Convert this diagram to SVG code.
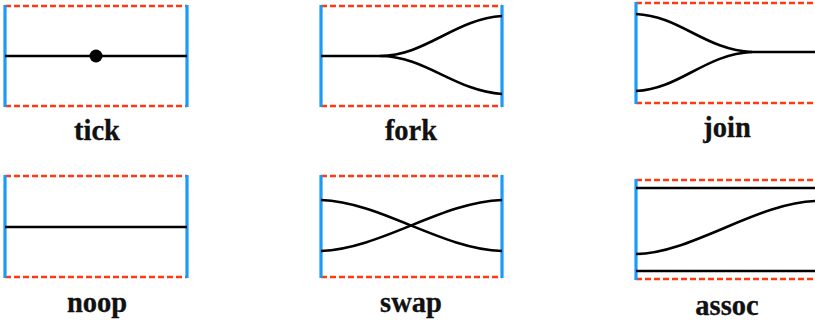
<svg xmlns="http://www.w3.org/2000/svg" width="815" height="326" viewBox="0 0 815 326">
<style>
.bg{fill:#ffffff}
.dash{stroke:#ff3a12;stroke-width:2.6;stroke-dasharray:6 3;fill:none}
.side{stroke:#1a9bf5;stroke-width:3.2;fill:none}
.wire{stroke:#000;stroke-width:2.6;fill:none}
.lbl{font-family:'Liberation Serif','Times New Roman',serif;font-weight:700;font-size:28.5px;text-anchor:middle;fill:#111;stroke:#111;stroke-width:0.3}
</style>
<rect class="bg" x="0" y="0" width="815" height="326"/>
<g id="tick">
<line class="dash" x1="5" y1="6" x2="187" y2="6"/>
<line class="dash" x1="5" y1="106" x2="187" y2="106"/>
<line class="side" x1="5" y1="5" x2="5" y2="107"/>
<line class="side" x1="187" y1="5" x2="187" y2="107"/>
<line class="wire" x1="5" y1="56" x2="187" y2="56"/>
<circle cx="96" cy="56" r="6.5" fill="#000"/>
<text class="lbl" x="97" y="140">tick</text>
</g>
<g id="fork">
<line class="dash" x1="321" y1="6" x2="502" y2="6"/>
<line class="dash" x1="321" y1="106" x2="502" y2="106"/>
<line class="side" x1="321" y1="5" x2="321" y2="107"/>
<line class="side" x1="502" y1="5" x2="502" y2="107"/>
<path class="wire" d="M321,56 L380,56 C425,56 455,19 502,16"/>
<path class="wire" d="M380,56 C425,56 455,91 502,94"/>
<text class="lbl" x="411" y="140">fork</text>
</g>
<g id="join">
<line class="dash" x1="636" y1="3" x2="815" y2="3"/>
<line class="dash" x1="636" y1="103" x2="815" y2="103"/>
<line class="side" x1="636" y1="2" x2="636" y2="104"/>
<line class="side" x1="818" y1="2" x2="818" y2="104"/>
<path class="wire" d="M636,14 C680,16 705,50 752,52 L818,52"/>
<path class="wire" d="M636,91 C680,89 705,54 752,52"/>
<text class="lbl" x="727" y="137">join</text>
</g>
<g id="noop">
<line class="dash" x1="5" y1="176" x2="187" y2="176"/>
<line class="dash" x1="5" y1="277" x2="187" y2="277"/>
<line class="side" x1="5" y1="175" x2="5" y2="278"/>
<line class="side" x1="187" y1="175" x2="187" y2="278"/>
<line class="wire" x1="5" y1="227" x2="187" y2="227"/>
<text class="lbl" x="97" y="312">noop</text>
</g>
<g id="swap">
<line class="dash" x1="321" y1="176" x2="502" y2="176"/>
<line class="dash" x1="321" y1="277" x2="502" y2="277"/>
<line class="side" x1="321" y1="175" x2="321" y2="278"/>
<line class="side" x1="502" y1="175" x2="502" y2="278"/>
<path class="wire" d="M321,200 C381,202 441,249 502,251"/>
<path class="wire" d="M321,251 C381,249 441,202 502,200"/>
<text class="lbl" x="411" y="312">swap</text>
</g>
<g id="assoc">
<line class="dash" x1="636" y1="180" x2="815" y2="180"/>
<line class="dash" x1="636" y1="279" x2="815" y2="279"/>
<line class="side" x1="636" y1="179" x2="636" y2="280"/>
<line class="side" x1="818" y1="179" x2="818" y2="280"/>
<line class="wire" x1="636" y1="188" x2="818" y2="188"/>
<line class="wire" x1="636" y1="271" x2="818" y2="271"/>
<path class="wire" d="M636,254 C690,254 760,201 818,201"/>
<text class="lbl" x="727" y="315">assoc</text>
</g>
</svg>
